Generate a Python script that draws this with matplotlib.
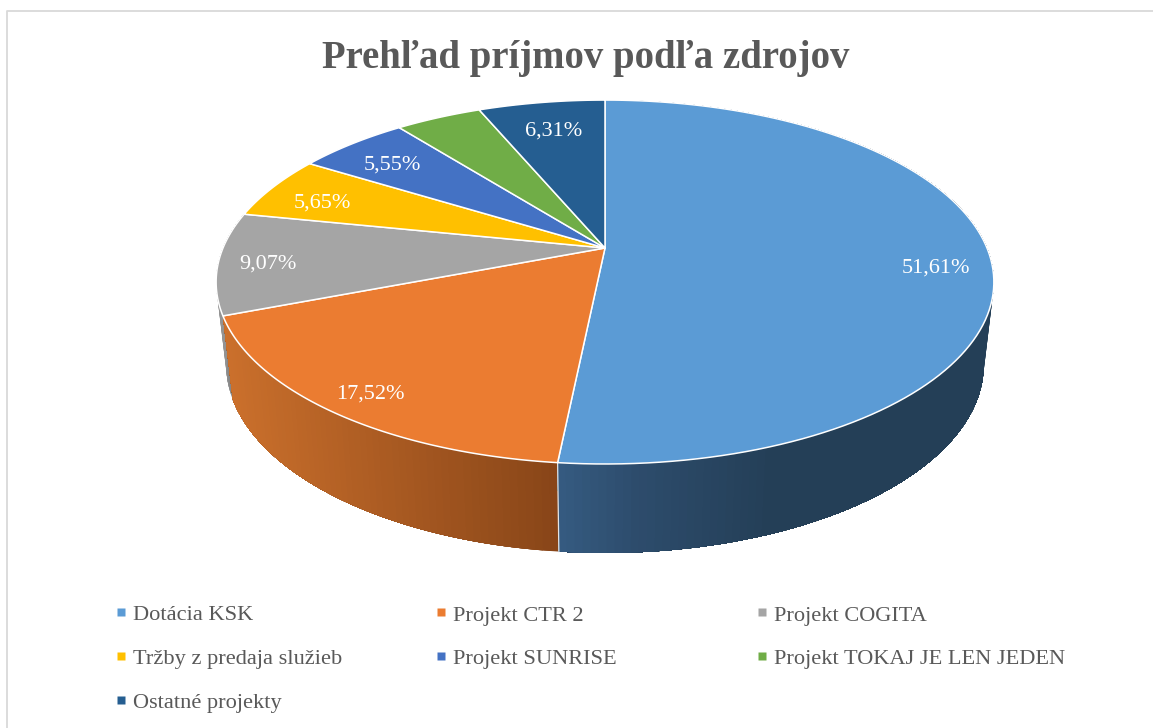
import matplotlib
matplotlib.use("Agg")
import matplotlib.pyplot as plt
import numpy as np

# Data
categories = ["Dotácia KSK", "Projekt CTR 2", "Projekt COGITA", "Tržby z predaja služieb",
              "Projekt SUNRISE", "Projekt TOKAJ JE LEN JEDEN", "Ostatné projekty"]
shares = [51.61, 17.52, 9.07, 5.65, 5.55, 4.29, 6.31]
labels = ["51,61%", "17,52%", "9,07%", "5,65%", "5,55%", None, "6,31%"]
title = "Prehľad príjmov podľa zdrojov"

colors = ["#5B9BD5", "#EB7C31", "#A5A5A5", "#FFC000", "#4472C4", "#70AD47", "#255E91"]

# Pixel positions of the labels (baseline) and legend grid
label_xy = [(936, 273), (370, 399), (268, 269), (322, 208), (392, 170), None, (554, 136)]
legend_x = [120.6, 441, 762]
legend_y = [612, 655.5, 699.5]

# Perspective of the tilted pie
cx, cy = 605, 248
rx, ry, k = 382, 175.6, 0.187


def top_face(theta, r=1.0):
    # theta in radians, clockwise from 12 o'clock
    u = r * np.sin(theta)
    v = r * np.cos(theta)
    d = 1 + k * v
    return cx + rx * u / d, cy - ry * v / d


def bottom_face(theta):
    x, y = top_face(theta)
    return cx + 0.974 * (x - cx), 73.2 + 1.034 * y


def side_color(x, stops_x, stops_c):
    rgb = np.array([matplotlib.colors.to_rgb(c) for c in stops_c])
    return [np.interp(x, stops_x, rgb[:, i]) for i in range(3)]


side_ramps = {
    0: ([559, 640, 770], ["#365C82", "#2D4C6C", "#243F57"]),
    1: ([233, 558], ["#CB702C", "#884518"]),
    2: ([217, 235], ["#A8A8A8", "#808080"]),
}

fig = plt.figure(figsize=(11.53, 7.28), dpi=100, facecolor="white")
ax = fig.add_axes([0, 0, 1, 1])
ax.set_xlim(0, 1153)
ax.set_ylim(728, 0)
ax.axis("off")

# Frame of the chart, cut by the right and bottom picture edges
ax.plot([1153, 7, 7], [11, 11, 728], color="#D9D9D9", lw=1.3)

edges = np.radians(np.cumsum([0] + shares) * 3.6)

# Side wall, gray first so that the orange part overlaps it.
# Each step paints everything up to the end of the slice, so no seams show.
for i in [2, 1, 0]:
    a1, a2 = edges[i], edges[i + 1]
    n = max(int(np.degrees(a2 - a1)), 2)
    steps = np.linspace(a1, a2, n + 1)
    order = steps[:-1] if i != 0 else steps[:-1]
    for s1 in order:
        t = np.linspace(s1, a2, 60)
        xt, yt = top_face(t)
        xb, yb = bottom_face(t)
        col = side_color(xb[:2].mean(), *side_ramps[i])
        ax.fill(np.r_[xt, xb[::-1]], np.r_[yt, yb[::-1]], color=col, lw=0, zorder=2)

# Seam between orange and blue wall
xs, ys = top_face(edges[1])
xe, ye = bottom_face(edges[1])
ax.plot([xs, xe], [ys, ye], color="#E4E4E4", lw=0.9, zorder=3)

# Top face
for i, share in enumerate(shares):
    t = np.linspace(edges[i], edges[i + 1], 120)
    x, y = top_face(t)
    ax.fill(np.r_[cx, x], np.r_[cy, y], facecolor=colors[i], edgecolor="white",
            lw=1.1, joinstyle="round", zorder=4)

for lab, xy in zip(labels, label_xy):
    if lab:
        ax.text(xy[0], xy[1], lab, color="white", fontsize=16, family="Liberation Serif",
                ha="center", va="baseline", zorder=5)

ax.text(586, 68, title, color="#595959", fontsize=27.9, fontweight="bold",
        family="Liberation Serif", ha="center", va="baseline")

# Legend, filled row by row
for i, name in enumerate(categories):
    lx = legend_x[i % 3]
    ly = legend_y[i // 3]
    ax.plot(lx, ly, marker="s", ms=5.2, color=colors[i], mec="none", ls="none")
    ax.text(lx + 12, ly + 8.5, name, color="#595959", fontsize=16.1, family="Liberation Serif",
            ha="left", va="baseline")

fig.savefig("out.png", dpi=100)
